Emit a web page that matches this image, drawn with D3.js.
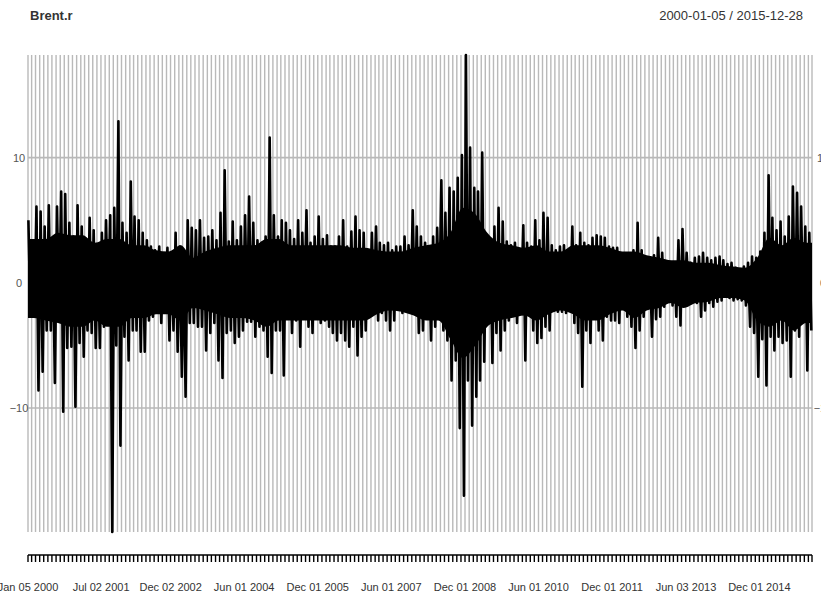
<!DOCTYPE html>
<html>
<head>
<meta charset="utf-8">
<script src="https://cdn.jsdelivr.net/npm/d3@7"></script>
<style>
  html, body { margin: 0; padding: 0; background: #fff; }
  svg { display: block; }
  text { font-family: "Liberation Sans", Arial, sans-serif; }
</style>
</head>
<body>
<svg id="chart" width="821" height="599"></svg>
<script>
// ---- data (monthly max / min of Brent.r) ----
const seriesName = "Brent.r";
const startDate = "2000-01-05";
const endDate = "2015-12-28";
const monthStart = "2000-01-01";
const monthEnd = "2016-01-01";

const hiVals = [
  5.0, 3.4, 6.1, 5.7, 4.5, 6.2, 3.0, 6.1, 7.3, 7.1, 4.8, 3.7,
  6.2, 4.5, 2.9, 5.2, 4.2, 2.6, 4.0, 5.0, 5.4, 6.0, 12.9, 4.8,
  4.0, 8.1, 5.3, 5.0, 4.0, 3.4, 2.9, 2.6, 2.9, 1.8, 2.8, 2.4,
  4.0, 2.9, 2.4, 5.0, 4.4, 4.2, 5.0, 3.6, 3.7, 4.2, 3.4, 5.6,
  9.0, 3.3, 4.9, 3.4, 4.5, 5.4, 6.9, 4.8, 3.4, 3.2, 3.7, 11.6,
  5.4, 3.7, 5.0, 4.8, 4.2, 3.5, 5.0, 4.0, 5.8, 3.2, 3.7, 5.3,
  3.5, 3.8, 2.9, 2.9, 3.7, 5.0, 2.9, 4.1, 5.3, 4.2, 4.0, 2.5,
  4.0, 4.5, 3.2, 3.0, 3.2, 2.6, 2.9, 2.9, 3.7, 3.0, 5.8, 4.5,
  3.7, 3.2, 2.6, 3.7, 4.4, 8.2, 5.6, 7.6, 7.3, 8.4, 10.2, 18.2,
  10.8, 7.6, 7.3, 10.4, 3.7, 3.4, 4.5, 6.0, 4.9, 3.3, 3.0, 3.2,
  2.6, 4.6, 3.2, 2.9, 5.0, 3.4, 5.6, 5.2, 3.0, 2.6, 2.9, 3.0,
  2.3, 4.5, 3.0, 4.0, 3.2, 3.0, 3.6, 3.8, 3.7, 3.6, 2.9, 2.8,
  2.8, 2.1, 1.8, 1.6, 2.6, 4.8, 2.6, 1.6, 1.3, 2.2, 3.6, 2.4,
  1.6, 1.3, 1.5, 3.4, 4.3, 2.4, 1.6, 2.0, 2.1, 2.4, 2.0, 1.8,
  2.0, 2.1, 1.8, 1.5, 1.6, 1.2, 0.8, 1.3, 1.6, 2.1, 2.0, 2.5,
  4.0, 8.6, 5.2, 4.2, 4.9, 3.7, 5.3, 7.7, 7.2, 6.1, 4.5, 4.0
];
const loVals = [
  -2.6, -2.0, -8.6, -7.1, -3.8, -3.8, -8.0, -3.0, -10.3, -5.2, -5.1, -9.9,
  -4.8, -5.9, -3.8, -4.0, -5.2, -5.2, -3.5, -2.2, -19.9, -5.0, -13.0, -4.3,
  -6.2, -3.8, -3.8, -5.5, -5.5, -3.0, -2.7, -1.4, -3.2, -1.4, -4.6, -3.8,
  -5.5, -7.5, -9.1, -3.2, -3.2, -3.5, -3.5, -5.4, -4.0, -3.2, -6.2, -7.6,
  -4.0, -3.8, -4.8, -4.3, -3.8, -3.1, -3.1, -4.3, -3.5, -3.8, -5.9, -7.2,
  -3.8, -3.8, -7.4, -2.7, -4.0, -3.0, -5.1, -2.2, -3.5, -4.0, -2.7, -3.2,
  -3.0, -3.5, -4.0, -4.6, -4.0, -4.6, -5.1, -3.5, -5.8, -4.3, -3.8, -2.7,
  -1.9, -3.0, -2.4, -3.0, -3.8, -3.0, -1.4, -2.4, -1.6, -2.0, -2.4, -4.0,
  -3.8, -1.8, -4.6, -3.5, -2.4, -3.8, -4.6, -7.8, -6.2, -11.6, -17.0, -7.8,
  -11.4, -9.1, -7.8, -6.3, -2.5, -6.4, -4.0, -5.4, -3.8, -3.0, -2.4, -3.2,
  -1.6, -6.2, -2.4, -3.8, -4.8, -4.4, -3.5, -3.8, -2.2, -2.3, -2.3, -2.4,
  -2.2, -3.2, -4.0, -8.3, -3.8, -4.8, -2.7, -3.8, -4.6, -2.7, -3.0, -3.0,
  -3.2, -1.9, -2.7, -3.5, -5.2, -3.8, -2.7, -1.9, -4.3, -2.9, -2.7, -1.9,
  -1.4, -1.8, -2.7, -3.4, -1.6, -1.1, -1.0, -1.6, -2.7, -2.2, -1.6, -1.9,
  -1.5, -1.4, -1.1, -1.2, -1.4, -1.3, -1.4, -1.8, -3.5, -4.0, -7.5, -4.5,
  -8.2, -4.3, -5.4, -4.3, -4.8, -4.6, -7.5, -3.8, -4.3, -2.7, -7.0, -3.8
];
// quarterly extent of the solid (densely overplotted) core of the series
const coreHi = [
  3.5, 3.5, 4.0, 3.8,  3.8, 3.2, 3.5, 3.5,  3.0, 3.0, 2.6, 2.5,  3.0, 2.0, 2.5, 2.8,
  3.0, 3.0, 3.0, 3.5,  3.5, 3.0, 3.0, 3.0,  3.0, 3.0, 2.8, 2.8,  2.6, 2.5, 2.5, 2.8,
  3.0, 3.2, 4.0, 6.0,  5.5, 4.0, 3.2, 3.0,  2.8, 3.0, 2.5, 2.5,  3.0, 3.0, 3.0, 2.8,
  2.5, 2.5, 2.2, 2.0,  1.8, 1.8, 1.6, 1.6,  1.4, 1.3, 1.2, 2.0,  3.6, 3.0, 3.6, 3.2
];
const coreLo = [
  -2.8, -3.0, -3.2, -3.5,  -3.5, -3.0, -3.5, -3.5,  -2.8, -2.8, -2.5, -2.5,  -3.0, -2.0, -2.2, -2.5,
  -2.8, -2.8, -3.0, -3.5,  -3.0, -3.0, -3.0, -3.0,  -3.0, -3.0, -3.0, -3.0,  -2.5, -2.2, -2.3, -2.6,
  -3.0, -3.0, -4.5, -6.0,  -5.0, -3.5, -3.0, -2.8,  -2.6, -3.0, -2.5, -2.2,  -2.5, -3.0, -3.0, -2.5,
  -2.2, -2.8, -2.2, -2.0,  -1.6, -2.0, -1.6, -1.5,  -1.2, -1.2, -1.4, -3.0,  -3.5, -3.0, -3.8, -3.2
];
const yTicks = [-10, 0, 10];
const yDomain = [-19.9, 18.2];
const xLabelDates = ["2000-01-05", "2001-07-02", "2002-12-02", "2004-06-01", "2005-12-01",
  "2007-06-01", "2008-12-01", "2010-06-01", "2011-12-01", "2013-06-03", "2014-12-01"];

// ---- drawing ----
const parse = d3.utcParse("%Y-%m-%d");
const svg = d3.select("#chart");
const L = 28, R = 812, T = 55, B = 532;

const x = d3.scaleUtc().domain([parse(startDate), parse(endDate)]).range([L, R]);
const y = d3.scaleLinear().domain(yDomain).range([B, T]);

const months = d3.utcMonth.range(parse(monthStart), parse(monthEnd));
const quarters = d3.utcMonth.every(3).range(parse(monthStart), parse(monthEnd));

// vertical grid (monthly)
const gridDates = months.map(d => d < parse(startDate) ? parse(startDate) : d).concat([parse(endDate)]);
svg.append("g").selectAll("line").data(gridDates).join("line")
  .attr("x1", d => x(d)).attr("x2", d => x(d))
  .attr("y1", T).attr("y2", B)
  .attr("stroke", "#b9b9b9").attr("stroke-width", 1.4);

// horizontal grid
svg.append("g").selectAll("line").data(yTicks).join("line")
  .attr("x1", L).attr("x2", R)
  .attr("y1", d => y(d)).attr("y2", d => y(d))
  .attr("stroke", "#b9b9b9").attr("stroke-width", 1.6);

// dense core of the series
const corePts = quarters.map((q, i) => [d3.utcDay.offset(q, 45), coreHi[i], coreLo[i]]);
corePts.unshift([parse(startDate), coreHi[0], coreLo[0]]);
corePts.push([parse(endDate), coreHi[coreHi.length - 1], coreLo[coreLo.length - 1]]);
const area = d3.area().x(d => x(d[0])).y0(d => y(d[2])).y1(d => y(d[1])).curve(d3.curveMonotoneX);
svg.append("path").datum(corePts).attr("d", area).attr("fill", "#000");

// series spikes
const pts = [];
months.forEach((m, i) => {
  pts.push([d3.utcDay.offset(m, 7), hiVals[i]]);
  pts.push([d3.utcDay.offset(m, 22), loVals[i]]);
});
const line = d3.line().x(d => x(d[0])).y(d => y(d[1]));
svg.append("path").datum(pts)
  .attr("d", line)
  .attr("fill", "none")
  .attr("stroke", "#000")
  .attr("stroke-width", 2.6)
  .attr("stroke-linejoin", "round");

// y labels left & right
const yl = svg.append("g").attr("font-size", 11).attr("fill", "#555");
yl.selectAll("text.l").data(yTicks).join("text").attr("class", "l")
  .attr("x", 19).attr("y", d => y(d) + 4).attr("text-anchor", "middle")
  .text(d => d3.format("d")(d));
yl.selectAll("text.r").data(yTicks).join("text").attr("class", "r")
  .attr("x", 823).attr("y", d => y(d) + 4).attr("text-anchor", "middle")
  .text(d => d3.format("d")(d));

// bottom axis: monthly ticks + labels
const axisY = 555;
svg.append("line").attr("x1", L).attr("x2", R).attr("y1", axisY).attr("y2", axisY)
  .attr("stroke", "#000").attr("stroke-width", 1.6);
svg.append("g").selectAll("line").data(gridDates).join("line")
  .attr("x1", d => x(d)).attr("x2", d => x(d))
  .attr("y1", axisY).attr("y2", axisY + 7)
  .attr("stroke", "#000").attr("stroke-width", 1.4);

const fmt = d3.utcFormat("%b %d %Y");
svg.append("g").selectAll("text").data(xLabelDates.map(parse)).join("text")
  .attr("x", d => x(d)).attr("y", 591)
  .attr("text-anchor", "middle").attr("font-size", 11).attr("fill", "#333")
  .text(d => fmt(d));

// titles
svg.append("text").attr("x", 30).attr("y", 20)
  .attr("font-size", 13).attr("font-weight", "bold").attr("fill", "#333")
  .text(seriesName);
svg.append("text").attr("x", 803).attr("y", 20).attr("text-anchor", "end")
  .attr("font-size", 13).attr("fill", "#333")
  .text(startDate + " / " + endDate);
</script>
</body>
</html>
